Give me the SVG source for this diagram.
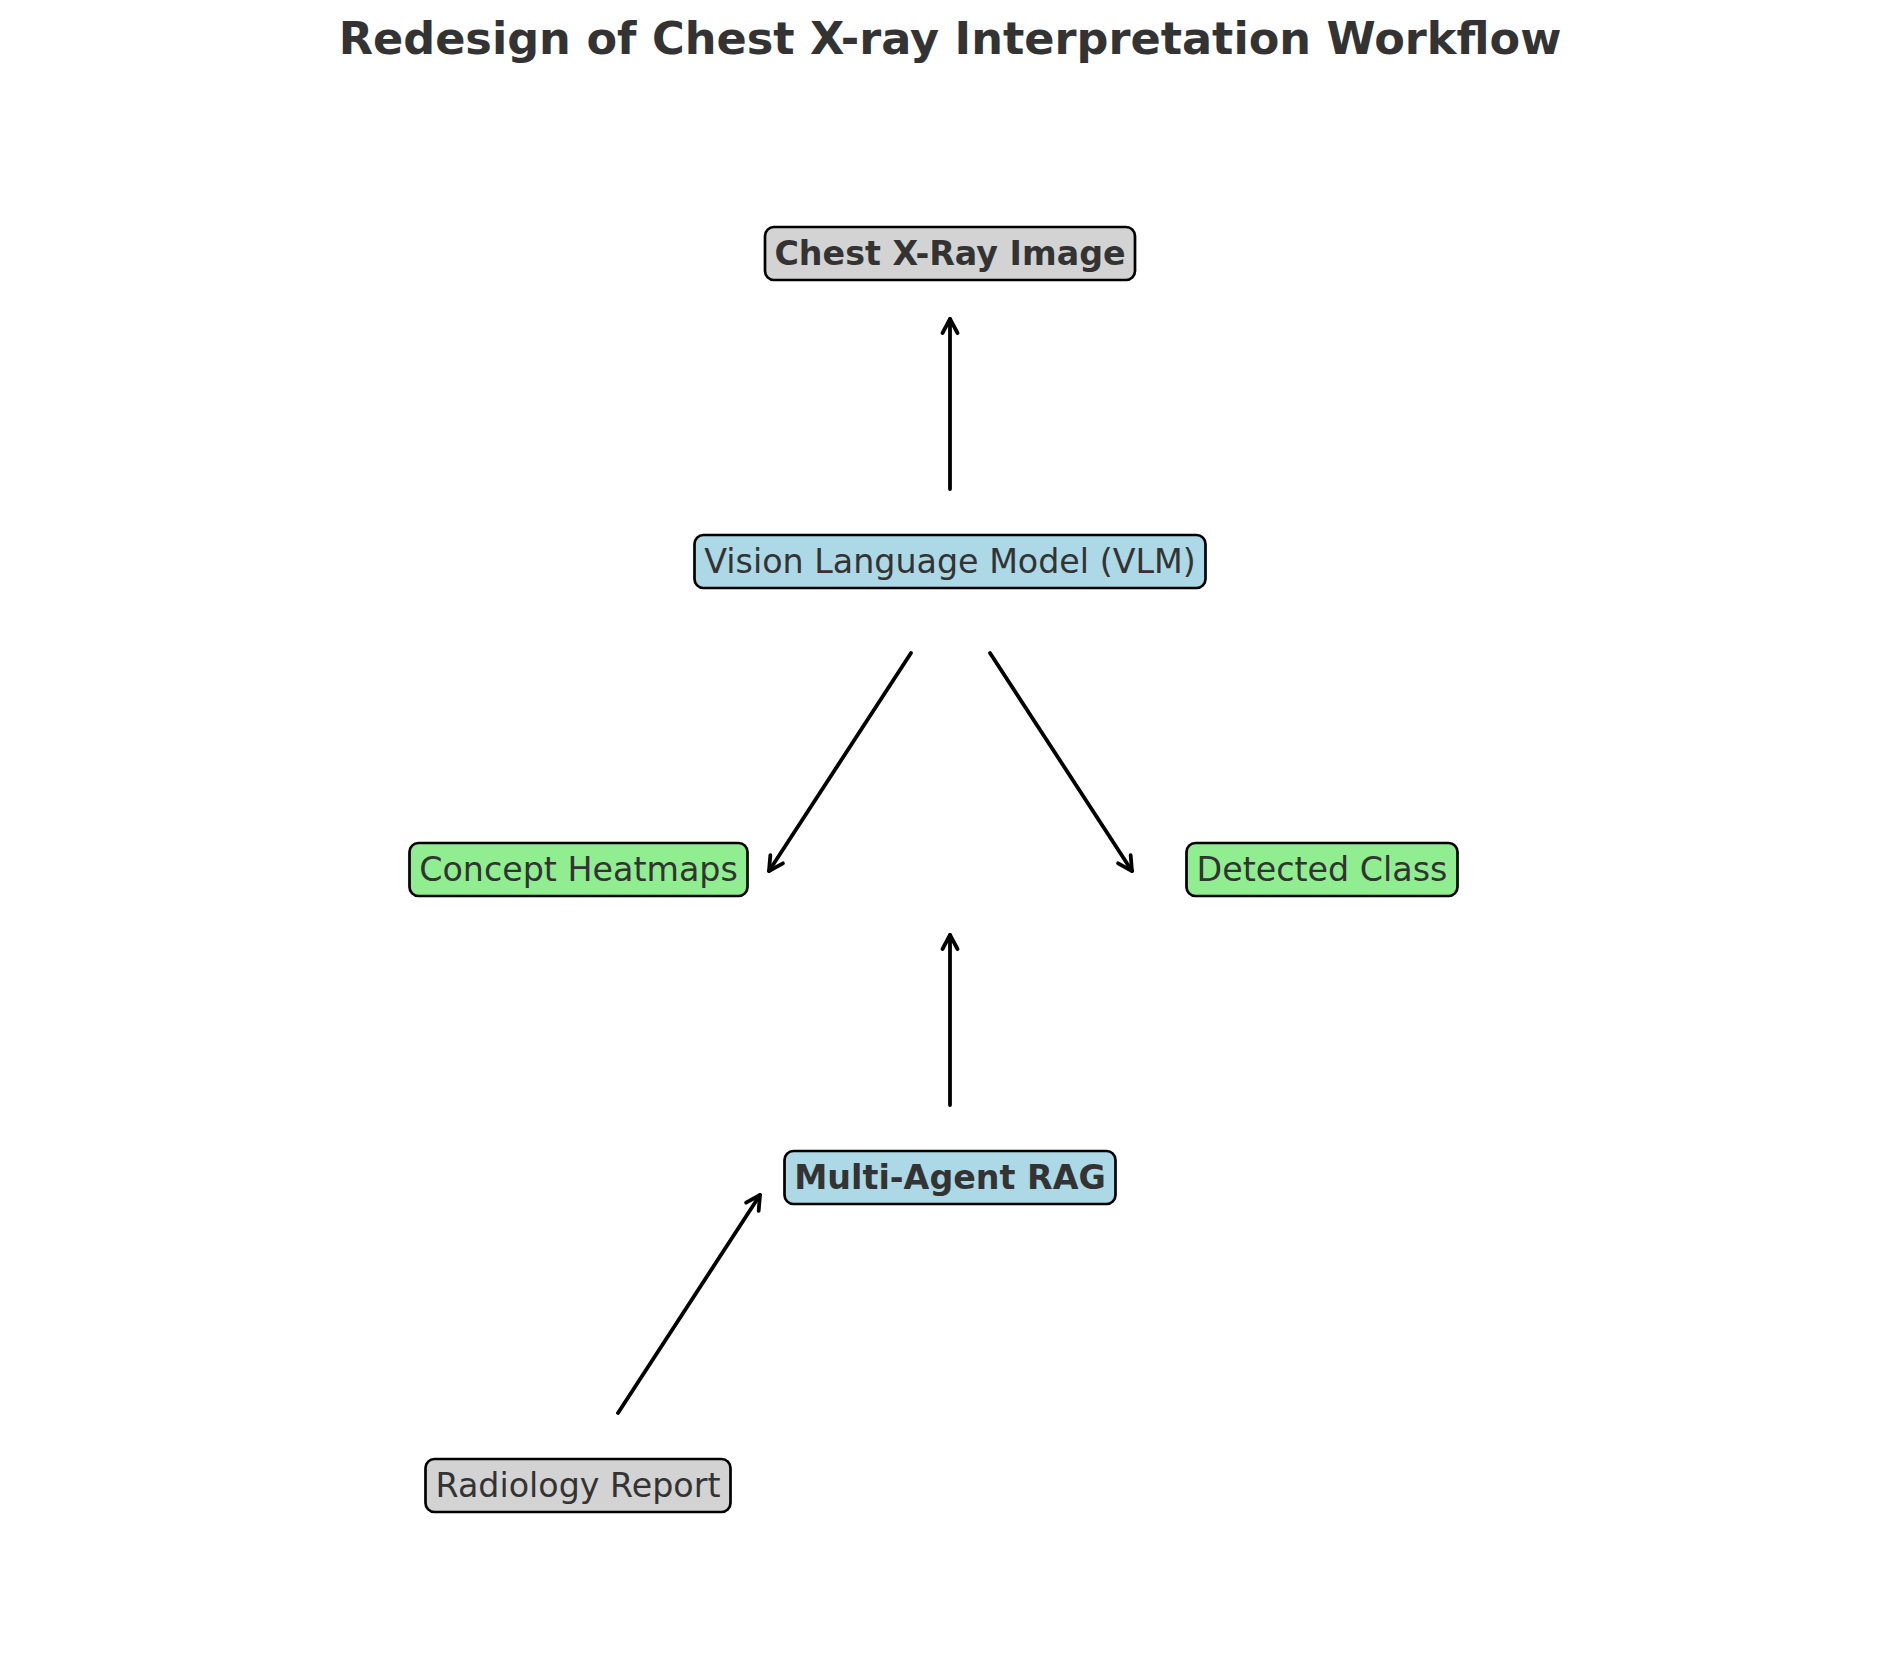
<svg xmlns="http://www.w3.org/2000/svg" width="1900" height="1669" viewBox="0 0 1900 1669">
<style>
.box{stroke:#000;stroke-width:2.7}
.gray{fill:#d3d3d3}.blue{fill:#add8e6}.green{fill:#90ee90}
.lbl{font-family:"DejaVu Sans",sans-serif;font-size:33.3px;fill:#333;text-anchor:middle}
.b{font-weight:bold}
.title{font-family:"DejaVu Sans",sans-serif;font-size:44.6px;font-weight:bold;fill:#333;text-anchor:middle}
.arr{stroke:#000;stroke-width:3.8;fill:none;stroke-linecap:round;marker-end:url(#head)}
</style>
<defs>
<marker id="head" markerUnits="userSpaceOnUse" viewBox="-16 -10 20 20" refX="0" refY="0" markerWidth="20" markerHeight="20" orient="auto" overflow="visible">
<path d="M-14,-7.5 L0,0 L-14,7.5" fill="none" stroke="#000" stroke-width="3.8" stroke-linecap="round" stroke-linejoin="round"/>
</marker>
</defs>
<rect width="1900" height="1669" fill="#fff"/>
<text class="title" x="950" y="54">Redesign of Chest X-ray Interpretation Workflow</text>
<g id="connectors">
<path class="arr" d="M950,489 L950,319"/>
<path class="arr" d="M911,653 L769,871"/>
<path class="arr" d="M990,653 L1132,871"/>
<path class="arr" d="M950,1105 L950,935"/>
<path class="arr" d="M618,1413 L760,1195"/>
</g>
<g id="chest">
<rect class="box gray" x="765" y="227" width="370" height="53" rx="9"/>
<text class="lbl b" x="950" y="265">Chest X-Ray Image</text>
</g>
<g id="vlm">
<rect class="box blue" x="694.5" y="535" width="511" height="53" rx="9"/>
<text class="lbl" x="950" y="573">Vision Language Model (VLM)</text>
</g>
<g id="heatmaps">
<rect class="box green" x="409.5" y="843" width="338" height="53" rx="9"/>
<text class="lbl" x="578.5" y="881">Concept Heatmaps</text>
</g>
<g id="detected">
<rect class="box green" x="1186.5" y="843" width="271" height="53" rx="9"/>
<text class="lbl" x="1322" y="881">Detected Class</text>
</g>
<g id="rag">
<rect class="box blue" x="784.5" y="1151" width="331" height="53" rx="9"/>
<text class="lbl b" x="950" y="1189">Multi-Agent RAG</text>
</g>
<g id="report">
<rect class="box gray" x="425.5" y="1459" width="305" height="53" rx="9"/>
<text class="lbl" x="578" y="1497">Radiology Report</text>
</g>
</svg>
